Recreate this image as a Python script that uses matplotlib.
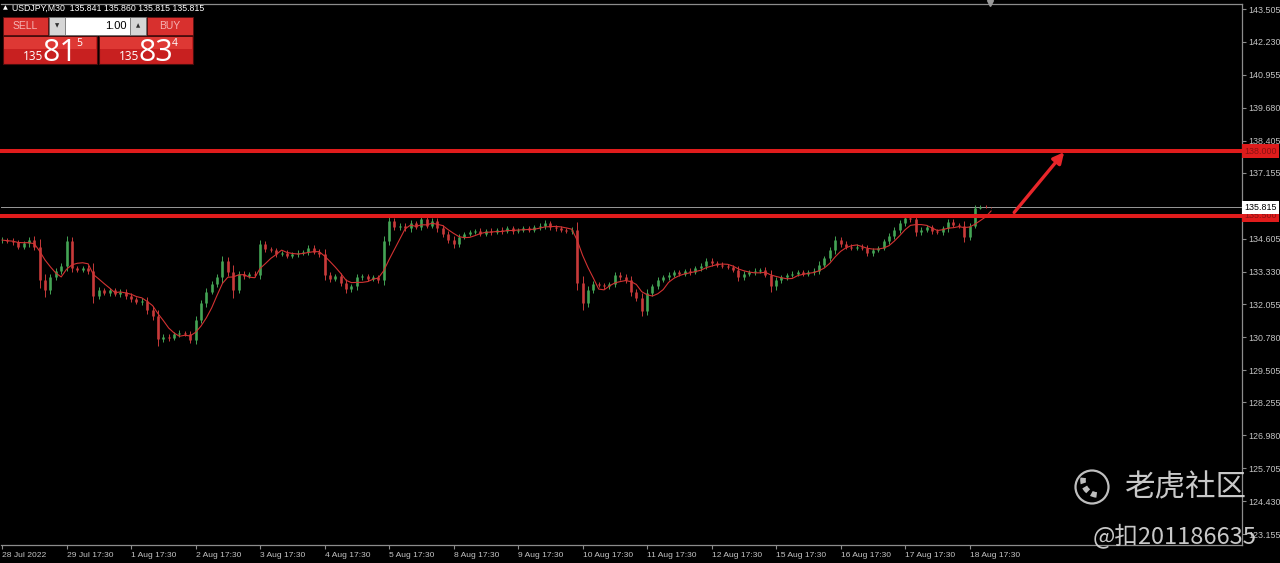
import numpy as np
import pandas as pd
import matplotlib.pyplot as plt
from matplotlib.patches import Rectangle, Circle, Arc
from matplotlib.transforms import blended_transform_factory

closes = [
    134.55, 134.50, 134.47, 134.30, 134.42, 134.55, 134.30, 133.00, 132.60, 133.10, 133.35, 133.55,
    134.50, 133.45, 133.40, 133.45, 133.35, 132.40, 132.60, 132.50, 132.60, 132.45, 132.55, 132.40,
    132.25, 132.15, 132.20, 131.85, 131.60, 130.70, 130.80, 130.75, 130.90, 130.95, 130.90, 130.67,
    131.45, 132.10, 132.55, 132.85, 133.10, 133.75, 133.30, 132.60, 133.25, 133.15, 133.25, 133.20,
    134.40, 134.20, 134.15, 134.00, 134.05, 133.95, 134.00, 134.05, 134.10, 134.25, 134.10, 134.00,
    133.20, 133.05, 133.15, 132.90, 132.65, 132.75, 133.10, 133.15, 133.05, 133.10, 133.00, 134.50,
    135.30, 135.05, 135.10, 135.00, 135.20, 135.05, 135.35, 135.10, 135.30, 135.00, 134.80, 134.55,
    134.40, 134.67, 134.80, 134.85, 134.90, 134.80, 134.90, 134.85, 134.95, 134.90, 135.00, 134.90,
    134.95, 135.00, 134.95, 135.05, 135.10, 135.20, 135.05, 135.00, 134.95, 134.90, 134.95, 132.90,
    132.10, 132.60, 132.85, 132.80, 132.75, 132.85, 133.20, 133.10, 133.00, 132.55, 132.30, 131.80,
    132.50, 132.75, 133.00, 133.10, 133.20, 133.30, 133.25, 133.35, 133.30, 133.45, 133.55, 133.75,
    133.65, 133.60, 133.55, 133.50, 133.40, 133.10, 133.25, 133.30, 133.35, 133.40, 133.20, 132.75,
    133.00, 133.10, 133.20, 133.25, 133.30, 133.25, 133.30, 133.35, 133.60, 133.85, 134.15, 134.55,
    134.40, 134.30, 134.25, 134.30, 134.25, 134.05, 134.15, 134.25, 134.50, 134.70, 134.95, 135.20,
    135.40, 135.35, 134.85, 134.95, 135.05, 134.90, 134.85, 135.00, 135.25, 135.15, 135.10, 134.67,
    135.10, 135.80, 135.85, 135.82, 135.815,
]
# wick length beyond the body, per candle
wicks = [
    0.10, 0.08, 0.12, 0.10, 0.08, 0.12, 0.15, 0.30, 0.25, 0.15, 0.10, 0.12,
    0.20, 0.15, 0.08, 0.10, 0.12, 0.30, 0.12, 0.08, 0.10, 0.08, 0.10, 0.12,
    0.10, 0.08, 0.10, 0.15, 0.15, 0.25, 0.12, 0.10, 0.08, 0.10, 0.08, 0.12,
    0.15, 0.12, 0.15, 0.10, 0.12, 0.20, 0.15, 0.30, 0.12, 0.10, 0.08, 0.10,
    0.15, 0.10, 0.08, 0.10, 0.08, 0.10, 0.08, 0.10, 0.08, 0.12, 0.10, 0.12,
    0.20, 0.12, 0.10, 0.12, 0.15, 0.10, 0.12, 0.08, 0.10, 0.08, 0.10, 0.20,
    0.15, 0.10, 0.12, 0.10, 0.12, 0.08, 0.12, 0.10, 0.10, 0.12, 0.15, 0.12,
    0.15, 0.10, 0.08, 0.10, 0.08, 0.10, 0.08, 0.10, 0.08, 0.10, 0.08, 0.10,
    0.08, 0.10, 0.08, 0.08, 0.10, 0.12, 0.10, 0.08, 0.10, 0.08, 0.10, 0.30,
    0.25, 0.15, 0.10, 0.08, 0.10, 0.08, 0.12, 0.10, 0.12, 0.15, 0.12, 0.20,
    0.15, 0.10, 0.10, 0.08, 0.10, 0.08, 0.10, 0.08, 0.10, 0.08, 0.10, 0.12,
    0.10, 0.08, 0.10, 0.08, 0.10, 0.15, 0.10, 0.08, 0.10, 0.08, 0.10, 0.20,
    0.12, 0.10, 0.08, 0.10, 0.08, 0.10, 0.08, 0.10, 0.12, 0.10, 0.12, 0.15,
    0.12, 0.10, 0.08, 0.10, 0.08, 0.12, 0.10, 0.08, 0.10, 0.12, 0.10, 0.12,
    0.12, 0.10, 0.15, 0.10, 0.08, 0.10, 0.08, 0.10, 0.12, 0.10, 0.08, 0.20,
    0.12, 0.10, 0.05, 0.04, 0.03,
]

date_labels = ["28 Jul 2022", "29 Jul 17:30", "1 Aug 17:30", "2 Aug 17:30", "3 Aug 17:30",
               "4 Aug 17:30", "5 Aug 17:30", "8 Aug 17:30", "9 Aug 17:30", "10 Aug 17:30",
               "11 Aug 17:30", "12 Aug 17:30", "15 Aug 17:30", "16 Aug 17:30", "17 Aug 17:30",
               "18 Aug 17:30"]
bars_per_day = 12

ytick_vals = [143.505, 142.230, 140.955, 139.680, 138.405, 137.155, 134.605, 133.330,
              132.055, 130.780, 129.505, 128.255, 126.980, 125.705, 124.430, 123.155]

levels = [138.000, 135.500]
last_price = 135.815
header = "USDJPY,M30  135.841 135.860 135.815 135.815"
arrow_from = (188.3, 135.62)
arrow_to = (197.6, 137.96)

BG = "#000000"
GREEN = "#44a455"
RED = "#c83a3a"
LEVEL = "#e01c1c"
AXIS = "#8c8c8c"
LABEL = "#c4c4c4"
FONT = "Liberation Sans"
FS = 6.1

fig = plt.figure(figsize=(12.8, 5.63), dpi=100, facecolor=BG)
ax = fig.add_axes([1 / 1280, 18 / 563, 1241 / 1280, 541 / 563])
ax.set_facecolor(BG)

c = np.array(closes)
w = np.array(wicks)
o = np.r_[c[0], c[:-1]]
x = np.arange(len(c))
up = c >= o
hi = np.maximum(o, c) + w
lo = np.minimum(o, c) - w
ax.vlines(x[up], lo[up], hi[up], color=GREEN, lw=0.7, zorder=3)
ax.vlines(x[~up], lo[~up], hi[~up], color=RED, lw=0.7, zorder=3)
ax.vlines(x[up], o[up], c[up], color=GREEN, lw=1.9, zorder=3)
ax.vlines(x[~up], c[~up], o[~up], color=RED, lw=1.9, zorder=3)

ma = pd.Series(c).rolling(5, min_periods=1).mean()
ax.plot(x, ma, color="#d23232", lw=0.8, zorder=4)

for lv in levels:
    ax.axhline(lv, color=LEVEL, lw=2.9, zorder=5, clip_on=False)
ax.axhline(last_price, color="#9a9a9a", lw=0.7, zorder=2)

ax.annotate("", xy=arrow_to, xytext=arrow_from,
            arrowprops=dict(arrowstyle="-|>", color="#e8262a", lw=2.4, mutation_scale=16,
                            shrinkA=0, shrinkB=0), zorder=6)

ax.set_xlim(-0.2, -0.2 + 1241 / 5.375)
ax.set_ylim(122.73, 143.70)

ax.yaxis.tick_right()
ax.set_yticks(ytick_vals)
ax.set_yticklabels([f"{v:.3f}" for v in ytick_vals], family=FONT)
ax.tick_params(axis="y", colors=AXIS, labelcolor=LABEL, labelsize=FS + 0.3, length=3, pad=1.2)
ax.set_xticks(np.arange(len(date_labels)) * bars_per_day)
ax.set_xticklabels(date_labels, ha="left", family=FONT)
ax.tick_params(axis="x", colors=AXIS, labelcolor=LABEL, labelsize=FS, length=3, pad=2)
for s in ["right", "bottom", "top"]:
    ax.spines[s].set_color(AXIS)
    ax.spines[s].set_linewidth(0.9)
ax.spines["left"].set_visible(False)

# price tags on the scale
tr = blended_transform_factory(ax.transAxes, ax.transData)
for lv in levels:
    ax.text(1.002, lv, f"{lv:.3f}", transform=tr, fontsize=FS + 0.3, color="#8a1212",
            va="center", ha="left", family=FONT, zorder=7, clip_on=False,
            bbox=dict(boxstyle="square,pad=0.25", fc=LEVEL, ec="none"))
ax.text(1.002, last_price, f"{last_price:.3f}", transform=tr, fontsize=FS + 0.3, color="black",
        va="center", ha="left", family=FONT, zorder=7, clip_on=False,
        bbox=dict(boxstyle="square,pad=0.25", fc="white", ec="none"))

# overlay in pixel coordinates for the trade panel and watermark
ov = fig.add_axes([0, 0, 1, 1], zorder=10)
ov.set_xlim(0, 1280)
ov.set_ylim(563, 0)
ov.axis("off")
ov.patch.set_alpha(0)

ov.text(3, 8, "\u25b2", fontsize=4.5, color="white", va="center", ha="left")
ov.text(12, 8, header, fontsize=6.3, color="white", va="center", ha="left", family=FONT)
ov.plot([990], [2.5], marker="v", color="#9a9a9a", ms=4)

btn = "#d8302e"
ov.add_patch(Rectangle((3, 17), 45, 18, fc=btn, ec="#5a1010", lw=0.6))
ov.add_patch(Rectangle((147, 17), 46, 18, fc=btn, ec="#5a1010", lw=0.6))
ov.add_patch(Rectangle((49, 17), 16, 18, fc="#d6d6d6", ec="#707070", lw=0.5))
ov.add_patch(Rectangle((65, 17), 65, 18, fc="white", ec="#707070", lw=0.5))
ov.add_patch(Rectangle((130, 17), 16, 18, fc="#d6d6d6", ec="#707070", lw=0.5))
ov.text(25, 26, "SELL", fontsize=7.5, color="#f6b4b4", ha="center", va="center", family=FONT)
ov.text(170, 26, "BUY", fontsize=7.5, color="#f6b4b4", ha="center", va="center", family=FONT)
ov.text(57, 26, "\u25bc", fontsize=4, color="#303030", ha="center", va="center")
ov.text(138, 26, "\u25b2", fontsize=4, color="#303030", ha="center", va="center")
ov.text(127, 26, "1.00", fontsize=8, color="black", ha="right", va="center", family=FONT)

for x0 in (3, 99):
    ov.add_patch(Rectangle((x0, 36), 94, 28, fc="#c82020", ec="#4a0c0c", lw=0.8))
    ov.add_patch(Rectangle((x0 + 1, 37), 92, 12, fc="#de3834", ec="none"))
for x0, big, sup in ((23, "81", "5"), (119, "83", "4")):
    ov.text(x0, 60, "135", fontsize=8.5, color="white", ha="left", va="baseline",
            family="Open Sans")
    ov.text(x0 + 19, 61, big, fontsize=22, color="white", ha="left", va="baseline",
            family="Open Sans")
    ov.text(x0 + 53, 44, sup, fontsize=7.5, color="white", ha="left", va="center",
            family="Open Sans")

# watermark
wm = "#d4d4d4"
ov.add_patch(Circle((1092, 487), 16.5, fill=False, ec=wm, lw=1.6, alpha=0.9))
ov.add_patch(Arc((1098, 480), 30, 30, theta1=95, theta2=200, ec=wm, lw=4.0,
                 ls=(0, (1.0, 0.7)), alpha=0.9))
ov.text(1125, 488, "老虎社区", fontsize=22, color=wm, ha="left", va="center",
        family=["Noto Sans CJK SC", "DejaVu Sans"], alpha=0.95)
ov.text(1093, 536, "@扣201186635", fontsize=17, color=wm, ha="left", va="center",
        family=["Noto Sans CJK SC", "DejaVu Sans"], alpha=0.95)

fig.savefig("out.png", dpi=100, facecolor=BG)
